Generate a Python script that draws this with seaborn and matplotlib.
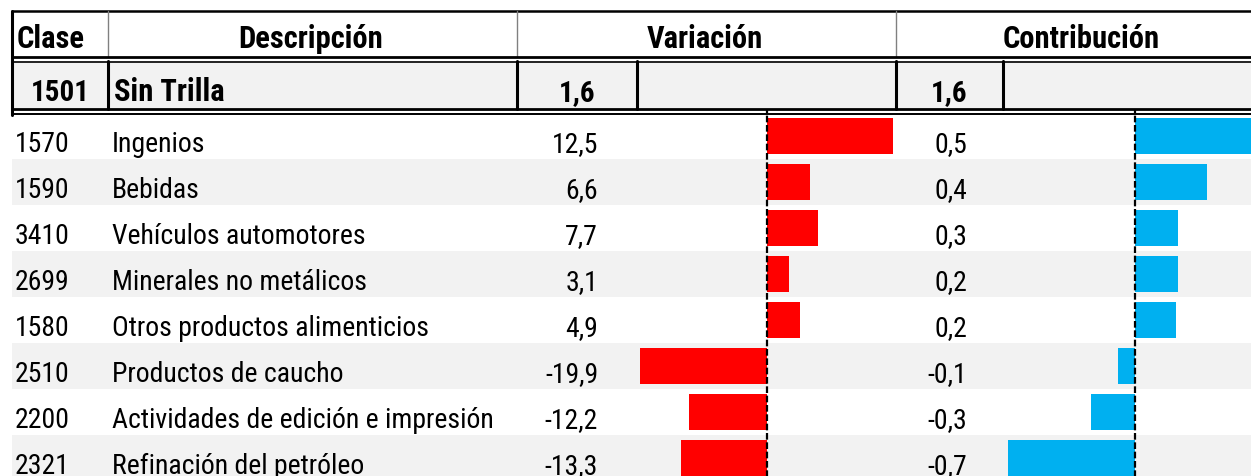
import pandas as pd
import seaborn as sns
import matplotlib.pyplot as plt
from matplotlib.patches import Rectangle

clases = ["1570", "1590", "3410", "2699", "1580", "2510", "2200", "2321"]
descripciones = ["Ingenios", "Bebidas", "Vehículos automotores", "Minerales no metálicos",
                 "Otros productos alimenticios", "Productos de caucho",
                 "Actividades de edición e impresión", "Refinación del petróleo"]
variacion = [12.5, 6.6, 7.7, 3.1, 4.9, -19.9, -12.2, -13.3]
contribucion = [0.5, 0.4, 0.3, 0.2, 0.2, -0.1, -0.3, -0.7]
# largo de las barras como aparecen en el grafico (la de Ingenios sale mas larga que su valor)
barra_variacion = [19.4, 6.6, 7.8, 3.4, 5.1, -19.5, -12.0, -13.2]
barra_contribucion = [0.72, 0.42, 0.25, 0.25, 0.24, -0.10, -0.26, -0.75]
total_clase = "1501"
total_desc = "Sin Trilla"
total_variacion = 1.6
total_contribucion = 1.6
encabezados = ["Clase", "Descripción", "Variación", "Contribución"]

sns.set_theme(style="white")
plt.rcParams['font.family'] = ['Roboto Condensed', 'PT Sans Narrow', 'DejaVu Sans']

W, H = 1251, 477
ROW_TOP, ROW_H = 114, 46
n = len(clases)
GRIS = "#f2f2f2"


def fmt(v):
    return f"{v:.1f}".replace(".", ",")


def px_axes(x0, x1, y0, y1):
    return fig.add_axes([x0 / W, 1 - y1 / H, (x1 - x0) / W, (y1 - y0) / H])


df = pd.DataFrame({"clase": clases, "descripcion": descripciones,
                   "barra_var": barra_variacion, "barra_con": barra_contribucion})

fig = plt.figure(figsize=(W / 100, H / 100), dpi=100)
bg = fig.add_axes([0, 0, 1, 1])
bg.set_xlim(0, W)
bg.set_ylim(H, 0)
bg.axis("off")

# bandas de filas
for i in range(n):
    if i % 2 == 1:
        bg.add_patch(Rectangle((12, ROW_TOP + i * ROW_H), W, ROW_H, color=GRIS, lw=0, zorder=0))
bg.add_patch(Rectangle((12, 62), W, 47, color=GRIS, lw=0, zorder=0))

# lineas del encabezado
bg.plot([12, W], [12, 12], color="black", lw=1.8)
bg.plot([12, 12], [12, 116], color="black", lw=2.2)
for x in [108, 517, 896]:
    bg.plot([x, x], [12, 57], color="#808080", lw=1.0)
bg.plot([12, W], [58, 58], color="black", lw=2.0)
bg.plot([12, W], [62.5, 62.5], color="black", lw=1.2)
for x in [108, 517, 637, 896, 1003]:
    bg.plot([x, x], [62, 110], color="black", lw=2.2)
bg.plot([12, W], [109.5, 109.5], color="black", lw=2.0)
bg.plot([12, W], [114.5, 114.5], color="black", lw=1.4)

fs = 20
fb = 22
tc = "black"
bg.text(17, 48, encabezados[0], fontsize=fb, fontweight="bold", ha="left", va="baseline", color=tc)
bg.text(311, 48, encabezados[1], fontsize=fb, fontweight="bold", ha="center", va="baseline", color=tc)
bg.text(705, 48, encabezados[2], fontsize=fb, fontweight="bold", ha="center", va="baseline", color=tc)
bg.text(1081, 48, encabezados[3], fontsize=fb, fontweight="bold", ha="center", va="baseline", color=tc)

bg.text(60, 101, total_clase, fontsize=21, fontweight="bold", ha="center", va="baseline", color=tc)
bg.text(114, 101, total_desc, fontsize=fb, fontweight="bold", ha="left", va="baseline", color=tc)
bg.text(577, 101, fmt(total_variacion), fontsize=21, fontweight="bold", ha="center", va="baseline", color=tc)
bg.text(949, 101, fmt(total_contribucion), fontsize=21, fontweight="bold", ha="center", va="baseline", color=tc)

for i in range(n):
    yb = ROW_TOP + i * ROW_H + 38
    bg.text(15, yb, clases[i], fontsize=fs, ha="left", va="baseline", color=tc)
    bg.text(112, yb, descripciones[i], fontsize=fs, ha="left", va="baseline", color=tc)
    bg.text(598, yb, fmt(variacion[i]), fontsize=fs, ha="right", va="baseline", color=tc)
    bg.text(967, yb, fmt(contribucion[i]), fontsize=fs, ha="right", va="baseline", color=tc)

# barras
y1 = ROW_TOP + n * ROW_H
ax_v = px_axes(637, 897, ROW_TOP, y1)
sns.barplot(data=df, x="barra_var", y="descripcion", orient="h", color="#ff0000",
            saturation=1, width=0.8, linewidth=0, ax=ax_v)
ax_v.set_xlim(-20, 20)

ax_c = px_axes(1003, 1266, ROW_TOP, y1)
sns.barplot(data=df, x="barra_con", y="descripcion", orient="h", color="#00b0f0",
            saturation=1, width=0.8, linewidth=0, ax=ax_c)
ax_c.set_xlim(-0.78, 0.77)

for ax in [ax_v, ax_c]:
    ax.set_ylim(n - 0.5, -0.5)
    ax.axvline(0, ymin=0, ymax=1.01, color="black", lw=1.6, ls=(0, (3, 1.2)), clip_on=False)
    ax.axis("off")

fig.savefig("out.png", dpi=100)
